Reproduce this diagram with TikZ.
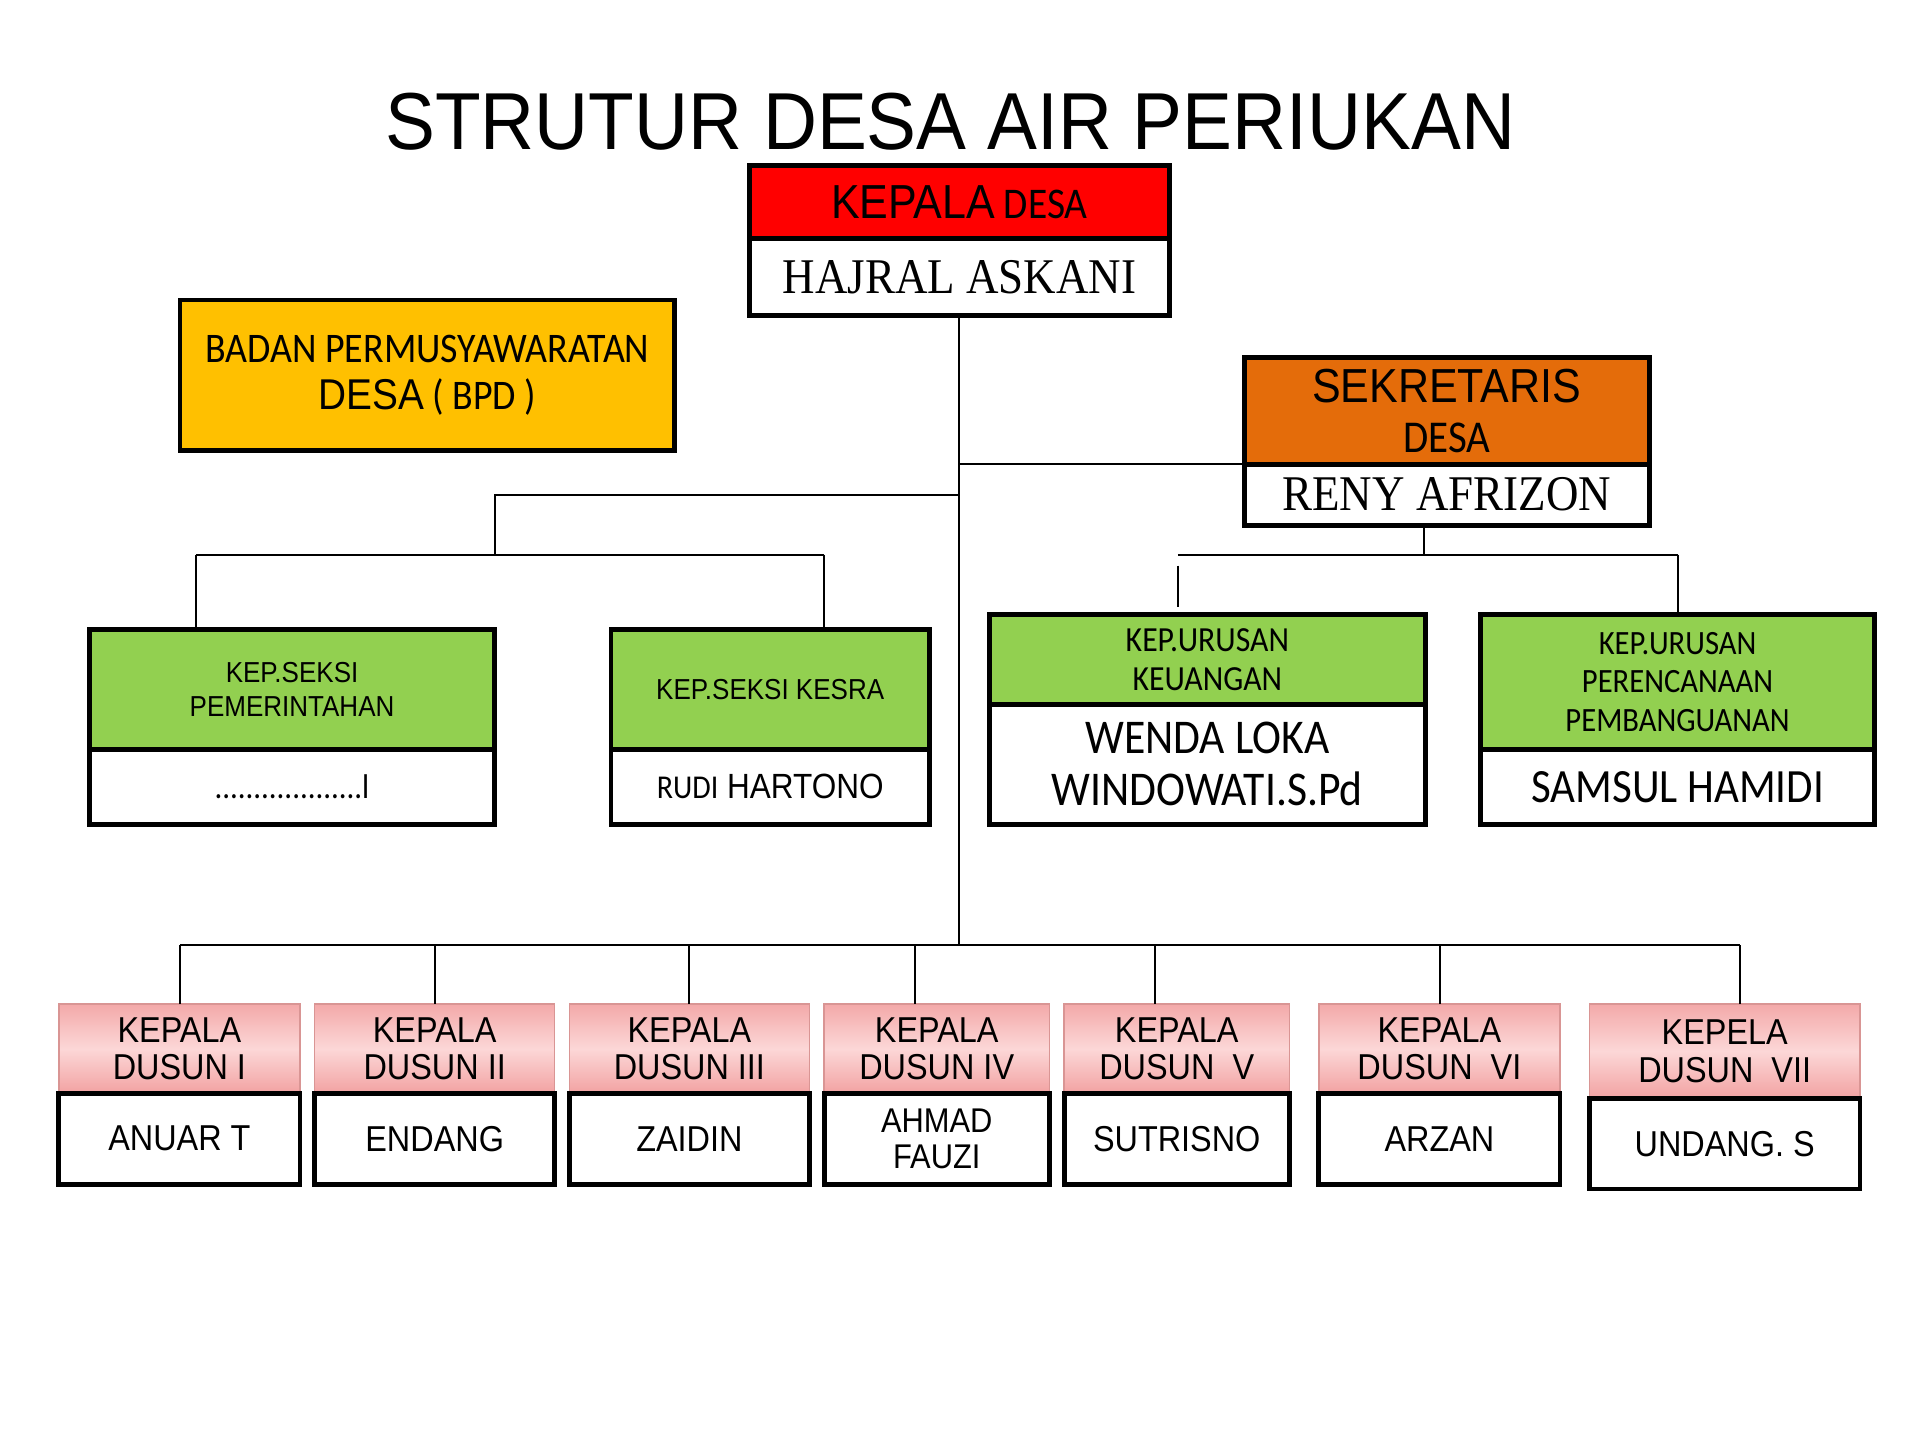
\documentclass[tikz,border=0pt]{standalone}
\usepackage{fontspec}
\newfontfamily\farl{Liberation Sans}[FakeStretch=0.9]
\newfontfamily\ftitle{Liberation Sans}[FakeStretch=0.925]
\newfontfamily\fcal{Carlito}[FakeStretch=0.9]
\newfontfamily\fsrf{Liberation Serif}[FakeStretch=0.9]
\definecolor{cRed}{HTML}{FF0000}
\definecolor{cYel}{HTML}{FFC000}
\definecolor{cOra}{HTML}{E46C0A}
\definecolor{cGrn}{HTML}{92D050}
\definecolor{pinkA}{HTML}{F3A9A9}
\definecolor{pinkB}{HTML}{FCD7D7}
\definecolor{pinkC}{HTML}{F2A2A2}
\definecolor{pinkE}{HTML}{D99594}
\tikzset{
  bxs/.style={draw=black, line width=2pt, inner sep=0pt, outer sep=0pt, align=center, rectangle},
  pinkbox/.style={draw=pinkE, line width=0.6pt, inner sep=0pt, outer sep=0pt, align=center, rectangle,
     top color=pinkA, bottom color=pinkC, middle color=pinkB, font=\farl\fontsize{14.7}{15.5}\selectfont},
  dusname/.style={bxs, fill=white, font=\farl\fontsize{14.7}{15.5}\selectfont},
  conn/.style={draw=black, line width=0.8pt},
}
\newcommand\bx[7]{\node[#6, anchor=north west, minimum width={(#4-#2)*0.5pt}, minimum height={(#5-#3)*0.5pt}] (#1) at (#2,#3) {#7};}
\begin{document}
\begin{tikzpicture}[x=0.5pt,y=-0.5pt]
\useasboundingbox[fill=white] (0,0) rectangle (1568,1176);

% title
\node[anchor=base, inner sep=0pt, font=\ftitle\fontsize{33}{36}\selectfont] (title) at (776,122) {STRUTUR DESA AIR PERIUKAN};

% coordinates for connectors
\coordinate (trunk) at (783.5,772);
\coordinate (s1) at (783.5,379);
\coordinate (s2) at (783.5,404);
\coordinate (s3) at (404,404);
\coordinate (s4) at (404,453);
\coordinate (h1) at (160,453);
\coordinate (h2) at (673,453);
\coordinate (sk) at (1163,429);
\coordinate (r1) at (962,453);
\coordinate (r2) at (1370,453);
\coordinate (g1) at (962,462);
\coordinate (b0) at (147,772);
\coordinate (b7) at (1421,772);

% Kepala desa
\bx{kdT}{612}{135}{955}{195}{bxs,fill=cRed,font=\fcal\fontsize{17.9}{22}\selectfont}{{\farl\fontsize{19.5}{22}\selectfont KEPALA} DESA}
\bx{kdB}{612}{195}{955}{258}{bxs,fill=white,font=\fsrf\fontsize{20.4}{24}\selectfont}{HAJRAL ASKANI}

% BPD
\bx{bpd}{147}{245}{551}{368}{bxs,fill=cYel,font=\fcal\fontsize{17.2}{19}\selectfont}{BADAN PERMUSYAWARATAN\\{\farl\fontsize{17.6}{19}\selectfont DESA} ( BPD )}

% Sekretaris
\bx{sekT}{1016}{292}{1347}{379}{bxs,fill=cOra,font=\fcal\fontsize{18.6}{20.5}\selectfont}{{\farl\fontsize{19.5}{20.5}\selectfont SEKRETARIS}\\DESA}
\bx{sekB}{1016}{379}{1347}{429}{bxs,fill=white,font=\fsrf\fontsize{20.4}{24}\selectfont}{RENY AFRIZON}

% Seksi
\bx{pemT}{73}{514}{404}{612}{bxs,fill=cGrn,font=\farl\fontsize{11.8}{13.5}\selectfont}{KEP.SEKSI\\PEMERINTAHAN}
\bx{pemB}{73}{612}{404}{673}{bxs,fill=white,font=\fcal\fontsize{14}{16}\selectfont}{...................l}
\bx{kesT}{499}{514}{759}{612}{bxs,fill=cGrn,font=\farl\fontsize{11.8}{13.5}\selectfont}{KEP.SEKSI KESRA}
\bx{kesB}{499}{612}{759}{673}{bxs,fill=white,font=\farl\fontsize{14.3}{16}\selectfont}{{\fcal\fontsize{13.6}{16}\selectfont RUDI} HARTONO}

% Urusan
\bx{keuT}{808}{502}{1164}{575}{bxs,fill=cGrn,font=\fcal\fontsize{14.4}{16}\selectfont}{KEP.URUSAN\\KEUANGAN}
\bx{keuB}{808}{575}{1164}{673}{bxs,fill=white,font=\fcal\fontsize{19.8}{21}\selectfont}{WENDA LOKA\\WINDOWATI.S.Pd}
\bx{perT}{1209}{502}{1531}{612}{bxs,fill=cGrn,font=\fcal\fontsize{13.9}{15.75}\selectfont}{KEP.URUSAN\\PERENCANAAN\\PEMBANGUANAN}
\bx{perB}{1209}{612}{1531}{673}{bxs,fill=white,font=\fcal\fontsize{19.5}{21}\selectfont}{SAMSUL HAMIDI}

% Dusun
\bx{d1T}{48}{820}{245}{893}{pinkbox}{KEPALA\\DUSUN I}
\bx{d1B}{48}{893}{245}{967}{dusname}{ANUAR T}
\bx{d2T}{257}{820}{453}{893}{pinkbox}{KEPALA\\DUSUN II}
\bx{d2B}{257}{893}{453}{967}{dusname}{ENDANG}
\bx{d3T}{465}{820}{661}{893}{pinkbox}{KEPALA\\DUSUN III}
\bx{d3B}{465}{893}{661}{967}{dusname}{ZAIDIN}
\bx{d4T}{673}{820}{857}{893}{pinkbox}{KEPALA\\DUSUN IV}
\bx{d4B}{673}{893}{857}{967}{dusname,font=\farl\fontsize{14}{15}\selectfont}{AHMAD\\FAUZI}
\bx{d5T}{869}{820}{1053}{893}{pinkbox}{KEPALA\\DUSUN\ \ V}
\bx{d5B}{869}{893}{1053}{967}{dusname}{SUTRISNO}
\bx{d6T}{1077}{820}{1274}{893}{pinkbox}{KEPALA\\DUSUN\ \ VI}
\bx{d6B}{1077}{893}{1274}{967}{dusname}{ARZAN}
\bx{d7T}{1298}{820}{1519}{897}{pinkbox}{KEPELA\\DUSUN\ \ VII}
\bx{d7B}{1298}{897}{1519}{971}{dusname}{UNDANG. S}

% connector lines
\draw[conn] (kdB.south) -- (trunk);
\draw[conn] (s1) -- (sekT.south west);
\draw[conn] (s2) -- (s3) -- (s4);
\draw[conn] (h1) -- (h2);
\draw[conn] (h1) -- (h1 |- pemT.north);
\draw[conn] (h2) -- (h2 |- kesT.north);
\draw[conn] (sk) -- (sk |- r1);
\draw[conn] (r1) -- (r2);
\draw[conn] (r2) -- (r2 |- perT.north);
\draw[conn] (g1) -- ([yshift=3pt]g1 |- keuT.north);
\draw[conn] (b0) -- (b7);
\draw[conn] (b0) -- (b0 |- d1T.north);
\draw[conn] (355,772) -- (d2T.north);
\draw[conn] (563,772) -- (d3T.north);
\draw[conn] (747,772) -- (747,820);
\draw[conn] (943,772) -- (943,820);
\draw[conn] (1176,772) -- (1176,820);
\draw[conn] (b7) -- (b7 |- d7T.north);
\end{tikzpicture}
\end{document}
